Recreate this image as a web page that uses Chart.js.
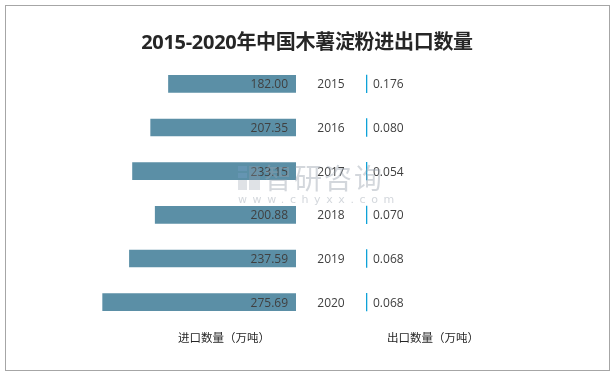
<!DOCTYPE html>
<html>
<head>
<meta charset="utf-8">
<script src="https://cdn.jsdelivr.net/npm/chart.js@4.4.0/dist/chart.umd.min.js"></script>
<style>
  html, body { margin: 0; padding: 0; background: #fff; }
  #wrap { position: relative; width: 614px; height: 375px; background: #fff; overflow: hidden; }
  #frame { position: absolute; left: 5px; top: 5px; width: 605px; height: 366px; border: 1px solid #a6a6a6; box-sizing: border-box; }
  canvas { position: absolute; left: 0; top: 0; }
  #title { position: absolute; left: 0; top: 30px; width: 614px; text-align: center; font: bold 20px 'Open Sans', 'Noto Sans CJK SC', sans-serif; line-height: 24px; color: #262626; letter-spacing: -0.3px; }
  .axlab { position: absolute; top: 330px; width: 140px; text-align: center; font: 11.5px 'Noto Sans CJK SC', sans-serif; line-height: 15px; color: #262626; }
  #wm1 { position: absolute; left: 264px; top: 160px; font: 28px 'Noto Sans CJK SC', sans-serif; line-height: 34px; color: rgba(150,160,172,0.42); letter-spacing: 2px; pointer-events: none; }
  #wm2 { position: absolute; left: 238px; top: 194px; font: 11px 'DejaVu Sans', sans-serif; line-height: 12px; color: rgba(150,160,172,0.42); letter-spacing: 5.6px; pointer-events: none; }
  #wmlogo { position: absolute; left: 238px; top: 166px; width: 22px; height: 24px; pointer-events: none; }
</style>
</head>
<body>
<div id="wrap">
  <div id="frame"></div>
  <canvas id="cL" width="614" height="375"></canvas>
  <canvas id="cR" width="614" height="375"></canvas>
  <div id="title"></div>
  <div class="axlab" id="labL" style="left:154px"></div>
  <div class="axlab" id="labR" style="left:363px"></div>
  <svg id="wmlogo" viewBox="0 0 22 24"><rect x="0" y="0" width="9" height="5" fill="rgba(120,160,200,0.35)"/><rect x="0" y="7" width="9" height="5" fill="rgba(120,160,200,0.35)"/><rect x="11" y="0" width="11" height="24" fill="rgba(150,160,172,0.3)"/><rect x="0" y="14" width="9" height="10" fill="rgba(150,160,172,0.3)"/></svg>
  <div id="wm1">智研咨询</div>
  <div id="wm2">www.chyxx.com</div>
</div>
<script>
const chartTitle = '2015-2020年中国木薯淀粉进出口数量';
const years = ['2015', '2016', '2017', '2018', '2019', '2020'];
const importQty = [182.00, 207.35, 233.15, 200.88, 237.59, 275.69];
const exportQty = [0.176, 0.080, 0.054, 0.070, 0.068, 0.068];
const importLabel = '进口数量（万吨）';
const exportLabel = '出口数量（万吨）';

document.getElementById('title').textContent = chartTitle;
document.getElementById('labL').textContent = importLabel;
document.getElementById('labR').textContent = exportLabel;

const numFont = "12px 'Open Sans', 'Noto Sans', sans-serif";
const textColor = '#404040';

const importLabels = {
  id: 'importLabels',
  afterDatasetsDraw(chart) {
    const ctx = chart.ctx;
    const meta = chart.getDatasetMeta(0);
    ctx.save();
    ctx.font = numFont;
    ctx.fillStyle = textColor;
    ctx.textBaseline = 'middle';
    meta.data.forEach((bar, i) => {
      ctx.textAlign = 'right';
      ctx.fillText(importQty[i].toFixed(2), bar.base - 8, bar.y + 1);
      ctx.textAlign = 'center';
      ctx.fillText(years[i], bar.base + 35, bar.y + 1);
    });
    ctx.restore();
  }
};

const exportLabels = {
  id: 'exportLabels',
  afterDatasetsDraw(chart) {
    const ctx = chart.ctx;
    const meta = chart.getDatasetMeta(0);
    ctx.save();
    ctx.font = numFont;
    ctx.fillStyle = textColor;
    ctx.textBaseline = 'middle';
    ctx.textAlign = 'left';
    meta.data.forEach((bar, i) => {
      ctx.fillText(exportQty[i].toFixed(3), bar.base + 7, bar.y + 1);
    });
    ctx.restore();
  }
};

const common = {
  responsive: false,
  animation: false,
  devicePixelRatio: 1,
  indexAxis: 'y',
  plugins: { legend: { display: false }, tooltip: { enabled: false }, title: { display: false } }
};

new Chart(document.getElementById('cL'), {
  type: 'bar',
  data: {
    labels: years,
    datasets: [{
      data: importQty,
      backgroundColor: '#5b8fa6',
      borderWidth: 0,
      categoryPercentage: 1,
      barPercentage: 0.405
    }]
  },
  options: Object.assign({}, common, {
    layout: { padding: { left: 15, right: 318, top: 62, bottom: 51 } },
    scales: {
      x: { type: 'linear', reverse: true, min: 0, max: 400, display: false },
      y: { display: false }
    }
  }),
  plugins: [importLabels]
});

new Chart(document.getElementById('cR'), {
  type: 'bar',
  data: {
    labels: years,
    datasets: [{
      data: exportQty,
      backgroundColor: '#0ea2d8',
      borderWidth: 0,
      categoryPercentage: 1,
      barPercentage: 0.42,
      minBarLength: 1.3
    }]
  },
  options: Object.assign({}, common, {
    layout: { padding: { left: 366, right: 14, top: 62, bottom: 51 } },
    scales: {
      x: { type: 'linear', min: 0, max: 100, display: false },
      y: { display: false }
    }
  }),
  plugins: [exportLabels]
});
</script>
</body>
</html>
